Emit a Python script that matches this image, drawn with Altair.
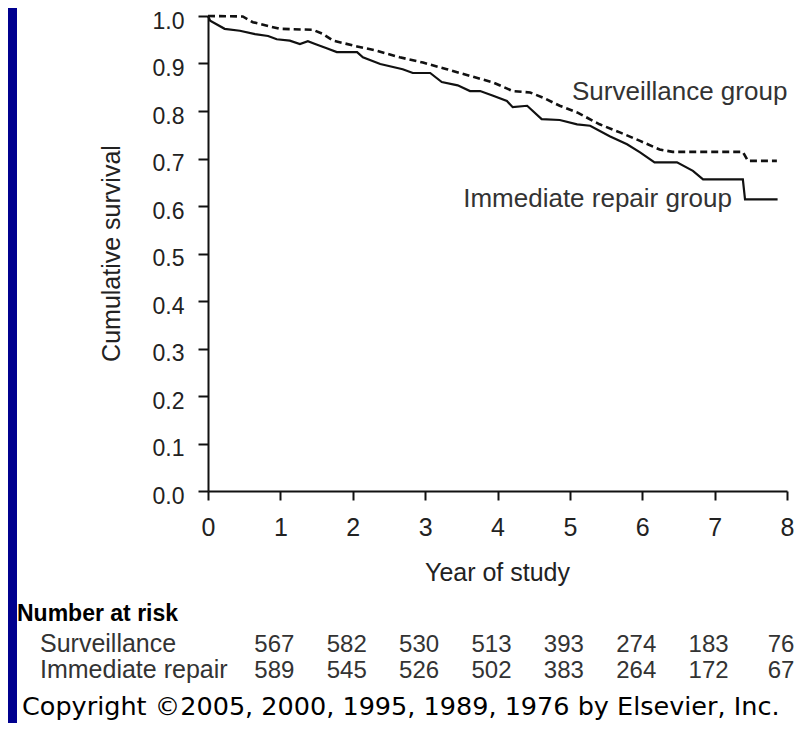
import altair as alt
import pandas as pd

# Kaplan-Meier style curves
imm_years = [0, 0.03, 0.23, 0.44, 0.65, 0.83, 0.95, 1.13, 1.27, 1.38, 1.48, 1.64, 1.78, 2.06, 2.14,
             2.38, 2.69, 2.83, 3.07, 3.23, 3.45, 3.62, 3.76, 3.94, 4.13, 4.21, 4.41, 4.61, 4.86,
             5.10, 5.28, 5.55, 5.79, 5.97, 6.17, 6.48, 6.70, 6.84, 7.39, 7.42, 7.87]
imm_surv = [1.0, 0.99, 0.973, 0.969, 0.962, 0.958, 0.951, 0.948, 0.941, 0.947, 0.941, 0.932, 0.924,
            0.924, 0.913, 0.899, 0.888, 0.880, 0.880, 0.861, 0.854, 0.842, 0.842, 0.832, 0.821,
            0.808, 0.811, 0.783, 0.781, 0.772, 0.769, 0.747, 0.730, 0.713, 0.692, 0.692, 0.674,
            0.656, 0.656, 0.614, 0.614]

sur_years = [0, 0.48, 0.62, 0.99, 1.45, 1.59, 1.73, 2.06, 2.33, 2.65, 2.97, 3.30, 3.62, 3.94, 4.21,
             4.45, 4.63, 4.86, 5.10, 5.41, 5.69, 5.97, 6.24, 6.42, 7.39, 7.46, 7.86]
sur_surv = [1.0, 0.999, 0.987, 0.973, 0.971, 0.962, 0.948, 0.936, 0.927, 0.913, 0.902, 0.888, 0.874,
            0.860, 0.842, 0.839, 0.828, 0.811, 0.797, 0.772, 0.755, 0.737, 0.719, 0.714, 0.714,
            0.695, 0.695]

risk_years = [1, 2, 3, 4, 5, 6, 7, 8]
risk_surveillance = [567, 582, 530, 513, 393, 274, 183, 76]
risk_immediate = [589, 545, 526, 502, 383, 264, 172, 67]

x_ticks = [0, 1, 2, 3, 4, 5, 6, 7, 8]
y_ticks = [0.0, 0.1, 0.2, 0.3, 0.4, 0.5, 0.6, 0.7, 0.8, 0.9, 1.0]

label_surv = "Surveillance group"
label_imm = "Immediate repair group"
row_title = "Number at risk"
row_labels = ["Surveillance", "Immediate repair"]
copyright_text = "Copyright \u00a92005, 2000, 1995, 1989, 1976 by Elsevier, Inc."

imm_df = pd.DataFrame({"year": imm_years, "surv": imm_surv, "idx": range(len(imm_years))})
sur_df = pd.DataFrame({"year": sur_years, "surv": sur_surv, "idx": range(len(sur_years))})
risk_s_df = pd.DataFrame({"year": risk_years, "n": risk_surveillance})
risk_i_df = pd.DataFrame({"year": risk_years, "n": risk_immediate})

FONT = "Liberation Sans"
INK = "#111111"

xscale = alt.Scale(domain=[0, 8], nice=False, zero=False)
yscale = alt.Scale(domain=[0, 1], nice=False)

x_axis = alt.Axis(values=x_ticks, format="d", tickSize=9, labelPadding=15,
                  labelFlush=False, labelOverlap=False, zindex=1,
                  title="Year of study", titleX=289, titleY=81,
                  titleBaseline="middle", titleAlign="center")
y_axis = alt.Axis(values=y_ticks, format=".1f", tickSize=10, labelPadding=14, labelOffset=5,
                  labelFontSize=23,
                  labelFlush=False, labelOverlap=False, zindex=1,
                  title="Cumulative survival", titleX=-97, titleY=237,
                  titleAngle=270, titleBaseline="middle", titleAlign="center")

one = alt.Data(values=[{"a": 1}])

panel = alt.Chart(one).mark_rect(color="white").encode(
    x=alt.value(-191), x2=alt.value(600), y=alt.value(-12), y2=alt.value(730)
)

imm_line = alt.Chart(imm_df).mark_line(color=INK, strokeWidth=2.2).encode(
    x=alt.X("year:Q", scale=xscale, axis=x_axis),
    y=alt.Y("surv:Q", scale=yscale, axis=y_axis),
    order="idx:Q",
)

sur_line = alt.Chart(sur_df).mark_line(color=INK, strokeWidth=2.6, strokeDash=[7, 4]).encode(
    x=alt.X("year:Q", scale=xscale, axis=x_axis),
    y=alt.Y("surv:Q", scale=yscale, axis=y_axis),
    order="idx:Q",
)

ann_surv = alt.Chart(one).mark_text(font=FONT, fontSize=26, color="#333333", align="left",
                                    baseline="middle", text=label_surv).encode(
    x=alt.value(364), y=alt.value(76)
)
ann_imm = alt.Chart(one).mark_text(font=FONT, fontSize=26, color="#333333", align="right",
                                   baseline="middle", text=label_imm).encode(
    x=alt.value(524), y=alt.value(183)
)

title_row = alt.Chart(one).mark_text(font=FONT, fontSize=23, fontWeight="bold", color="#000000",
                                     align="left", baseline="alphabetic", text=row_title).encode(
    x=alt.value(-191), y=alt.value(605)
)
lab_s = alt.Chart(one).mark_text(font=FONT, fontSize=25, color="#333333", align="left",
                                 baseline="alphabetic", text=row_labels[0]).encode(
    x=alt.value(-168), y=alt.value(636)
)
lab_i = alt.Chart(one).mark_text(font=FONT, fontSize=25, color="#333333", align="left",
                                 baseline="alphabetic", text=row_labels[1]).encode(
    x=alt.value(-168), y=alt.value(662)
)

num_s = alt.Chart(risk_s_df).mark_text(font=FONT, fontSize=24, color="#333333", align="center",
                                       baseline="alphabetic", dx=-6).encode(
    x=alt.X("year:Q", scale=xscale, axis=x_axis), y=alt.value(636), text="n:Q"
)
num_i = alt.Chart(risk_i_df).mark_text(font=FONT, fontSize=24, color="#333333", align="center",
                                       baseline="alphabetic", dx=-6).encode(
    x=alt.X("year:Q", scale=xscale, axis=x_axis), y=alt.value(662), text="n:Q"
)

copy_t = alt.Chart(one).mark_text(font="DejaVu Sans", fontSize=25.5, color="#000000", align="left",
                                  baseline="alphabetic", text=copyright_text).encode(
    x=alt.value(-186), y=alt.value(699)
)

chart = alt.layer(
    panel, imm_line, sur_line, ann_surv, ann_imm, title_row, lab_s, lab_i, num_s, num_i, copy_t
).properties(
    width=579, height=475,
    autosize=alt.AutoSizeParams(type="none"),
    padding={"left": 200, "top": 8, "right": 7, "bottom": 232},
).configure(
    background="#00008f"
).configure_view(
    stroke=None
).configure_axis(
    grid=False,
    domainColor=INK, domainWidth=2, tickColor=INK, tickWidth=2,
    labelFont=FONT, labelFontSize=25, labelColor="#222222",
    titleFont=FONT, titleFontSize=25, titleFontWeight="normal", titleColor="#222222",
)

chart.save("out.html", embed_options={"renderer": "svg", "actions": False})
